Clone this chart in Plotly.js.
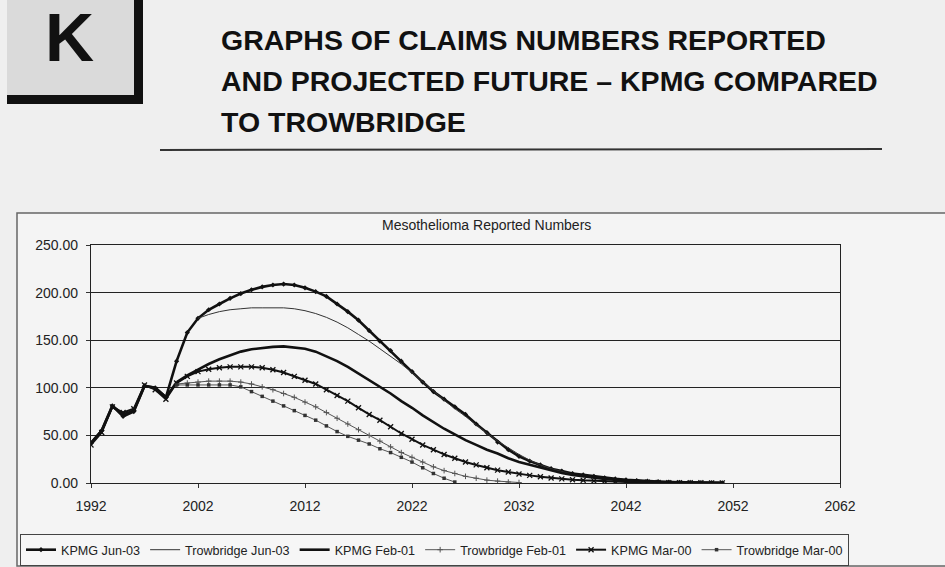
<!DOCTYPE html>
<html>
<head>
<meta charset="utf-8">
<script src="https://cdn.plot.ly/plotly-3.0.1.min.js"></script>
<style>html,body{margin:0;padding:0;background:#efefef;}#chart{width:945px;height:567px;}</style>
</head>
<body>
<div id="chart"></div>
<script>
// ---- data ----
const kpmgJun03Years = [1992,1993,1994,1995,1996,1997,1998,1999,2000,2001,2002,2003,2004,2005,2006,2007,2008,2009,2010,2011,2012,2013,2014,2015,2016,2017,2018,2019,2020,2021,2022,2023,2024,2025,2026,2027,2028,2029,2030,2031,2032,2033,2034,2035,2036,2037,2038,2039,2040,2041,2042,2043,2044,2045,2046,2047,2048,2049,2050,2051];
const kpmgJun03Vals  = [42,55,81,70,75,102,100,90,128,158,173,182,188,194,199,203,206,208,209,208,205,201,196,188,180,171,160,149,139,128,117,106,96,88,80,72,62,53,43,35,28,23,19,15,12.5,10,8.5,7,5.5,4.3,3.3,2.5,1.9,1.4,1.0,0.8,0.6,0.4,0.3,0.2];

const trowJun03Years = [2002,2003,2004,2005,2006,2007,2008,2009,2010,2011,2012,2013,2014,2015,2016,2017,2018,2019,2020,2021,2022,2023,2024,2025,2026,2027,2028,2029,2030,2031,2032,2033,2034,2035,2036,2037,2038,2039,2040,2041,2042,2043,2044,2045];
const trowJun03Vals  = [173,177,180,182,183,184,184,184,184,183,181,178,174,169,163,156,149,141,133,125,116,106,96,87,78,70,61,52,44,37,30,24,19,15,12,9,7,5.5,4,3,2.2,1.6,1.1,0.7];

const kpmgFeb01Years = [1992,1993,1994,1995,1996,1997,1998,1999,2000,2001,2002,2003,2004,2005,2006,2007,2008,2009,2010,2011,2012,2013,2014,2015,2016,2017,2018,2019,2020,2021,2022,2023,2024,2025,2026,2027,2028,2029,2030,2031,2032,2033,2034,2035,2036,2037,2038,2039,2040,2041,2042,2043,2044,2045,2046,2047,2048,2049,2050,2051];
const kpmgFeb01Vals  = [42,55,81,72,76,102,100,90,106,113,119,125,130,134,138,140.5,142,143,143.5,142.5,141,138,133,128,122,115,108,101,94,86,79,71,64,57,51,45,40,35,31,26,22,19,16,13,10.5,8.5,7,5.5,4.3,3.4,2.6,2,1.5,1.1,0.8,0.6,0.4,0.3,0.2,0.1];

const trowFeb01Years = [2000,2001,2002,2003,2004,2005,2006,2007,2008,2009,2010,2011,2012,2013,2014,2015,2016,2017,2018,2019,2020,2021,2022,2023,2024,2025,2026,2027,2028,2029,2030,2031,2032];
const trowFeb01Vals  = [104,105,106,107,107,107,106,104,101,98,94,90,85,80,74,68,62,56,50,44,38,32,27,22,17,13,10,7,5,3,2,1,0.5];

const kpmgMar00Years = [1992,1993,1994,1995,1996,1997,1998,1999,2000,2001,2002,2003,2004,2005,2006,2007,2008,2009,2010,2011,2012,2013,2014,2015,2016,2017,2018,2019,2020,2021,2022,2023,2024,2025,2026,2027,2028,2029,2030,2031,2032,2033,2034,2035,2036,2037,2038,2039,2040,2041,2042,2043,2044,2045,2046,2047,2048,2049,2050,2051];
const kpmgMar00Vals  = [40,53,80,74,78,103,98,88,105,112,117,119.5,121,122,122,122,121,119,116,112,108,104,98,92,86,79,72,66,59,52,46,40,35,30,26,22,19,16,13.5,11.5,9.5,8,6.5,5.3,4.3,3.5,2.8,2.2,1.8,1.4,1.1,0.9,0.7,0.5,0.4,0.3,0.2,0.2,0.1,0.1];

const trowMar00Years = [2000,2001,2002,2003,2004,2005,2006,2007,2008,2009,2010,2011,2012,2013,2014,2015,2016,2017,2018,2019,2020,2021,2022,2023,2024,2025,2026];
const trowMar00Vals  = [103,103,103,103,103,103,101,96,91,86,81,76,71,66,60,54,49,45,41,36,32,27,22,16,10,5,1];

const seriesNames = ['KPMG Jun-03','Trowbridge Jun-03','KPMG Feb-01','Trowbridge Feb-01','KPMG Mar-00','Trowbridge Mar-00'];
const xTicks = [1992,2002,2012,2022,2032,2042,2052,2062];
const yTicks = [0,50,100,150,200,250];

const pageTitle = ['GRAPHS OF CLAIMS NUMBERS REPORTED','AND PROJECTED FUTURE \u2013 KPMG COMPARED','TO TROWBRIDGE'];
const chartTitle = 'Mesothelioma Reported Numbers';
const boxLetter = 'K';

// ---- layout helpers (pixel -> paper) ----
const W = 945, H = 567;
const PL = 91, PR = 840, PT = 245, PB = 483;
const px = x => (x - PL) / (PR - PL);
const py = y => (PB - y) / (PB - PT);
const FONT = 'Liberation Sans, Arial, sans-serif';

const traces = [
  {x:kpmgJun03Years, y:kpmgJun03Vals, name:seriesNames[0], mode:'lines+markers',
   line:{color:'#111', width:2.6}, marker:{symbol:'diamond', size:4, color:'#111'}},
  {x:trowJun03Years, y:trowJun03Vals, name:seriesNames[1], mode:'lines',
   line:{color:'#333', width:1}},
  {x:kpmgFeb01Years, y:kpmgFeb01Vals, name:seriesNames[2], mode:'lines',
   line:{color:'#111', width:2.6}},
  {x:trowFeb01Years, y:trowFeb01Vals, name:seriesNames[3], mode:'lines+markers',
   line:{color:'#555', width:1}, marker:{symbol:'cross-thin-open', size:4, color:'#555', line:{width:1, color:'#555'}}},
  {x:kpmgMar00Years, y:kpmgMar00Vals, name:seriesNames[4], mode:'lines+markers',
   line:{color:'#111', width:2}, marker:{symbol:'x-thin-open', size:5, color:'#111', line:{width:1.3, color:'#111'}}},
  {x:trowMar00Years, y:trowMar00Vals, name:seriesNames[5], mode:'lines+markers',
   line:{color:'#555', width:1}, marker:{symbol:'square', size:3.5, color:'#333'}}
];

const annotations = [
  {text:'<b>'+boxLetter+'</b>', xref:'paper', yref:'paper', x:px(69), y:py(37), xanchor:'center', yanchor:'middle',
   showarrow:false, font:{family:FONT, size:68, color:'#111'}},
  {text:chartTitle, xref:'paper', yref:'paper', x:px(486), y:py(225), xanchor:'center', yanchor:'middle',
   showarrow:false, font:{family:FONT, size:14, color:'#222'}}
];
const lineY = [40, 81, 122];
pageTitle.forEach((t,i) => annotations.push({
  text:'<b>'+t+'</b>', xref:'paper', yref:'paper', x:px(219), y:py(lineY[i]), xanchor:'left', yanchor:'middle',
  showarrow:false, font:{family:FONT, size:28.5, color:'#111'}
}));

const shapes = [
  // chart frame
  {type:'rect', xref:'paper', yref:'paper', x0:px(17), x1:px(960), y0:py(213), y1:py(566),
   fillcolor:'#f4f4f4', line:{color:'#666', width:1.5}, layer:'below'},
  // K box
  {type:'rect', xref:'paper', yref:'paper', x0:px(7), x1:px(138), y0:py(-5), y1:py(97),
   fillcolor:'#dadada', line:{width:0}, layer:'below'},
  {type:'rect', xref:'paper', yref:'paper', x0:px(134), x1:px(143), y0:py(-5), y1:py(104),
   fillcolor:'#111', line:{width:0}},
  {type:'rect', xref:'paper', yref:'paper', x0:px(7), x1:px(143), y0:py(95), y1:py(104),
   fillcolor:'#111', line:{width:0}},
  // rule under title
  {type:'line', xref:'paper', yref:'paper', x0:px(160), x1:px(882), y0:py(150), y1:py(149),
   line:{color:'#333', width:2}}
];

const layout = {
  width:W, height:H,
  paper_bgcolor:'#efefef', plot_bgcolor:'#b8b8b8',
  margin:{l:PL, r:W-PR, t:PT, b:H-PB, autoexpand:false},
  font:{family:FONT, color:'#222', size:13},
  xaxis:{range:[1992,2062], tickvals:xTicks, ticktext:xTicks.map(String), ticks:'outside', ticklen:4,
    tickcolor:'#333', showgrid:false, zeroline:false, showline:true, mirror:true, linecolor:'#222', linewidth:1.2,
    ticklabelstandoff:6, tickfont:{size:14, color:'#222'}},
  yaxis:{range:[0,250], tickvals:yTicks, ticktext:yTicks.map(v=>v.toFixed(2)), ticks:'outside', ticklen:4,
    tickcolor:'#333', showgrid:true, gridcolor:'#222', gridwidth:1, zeroline:false, showline:true, mirror:true,
    linecolor:'#222', linewidth:1.2, ticklabelstandoff:5, tickfont:{size:14, color:'#222'}},
  showlegend:true,
  legend:{orientation:'h', x:px(20), y:py(534), xanchor:'left', yanchor:'top',
    bgcolor:'#f6f6f6', bordercolor:'#444', borderwidth:1, font:{size:12.6, color:'#222'},
    itemwidth:30, tracegroupgap:0},
  annotations:annotations,
  shapes:shapes
};

Plotly.newPlot('chart', traces, layout, {displayModeBar:false, staticPlot:true});
</script>
</body>
</html>
